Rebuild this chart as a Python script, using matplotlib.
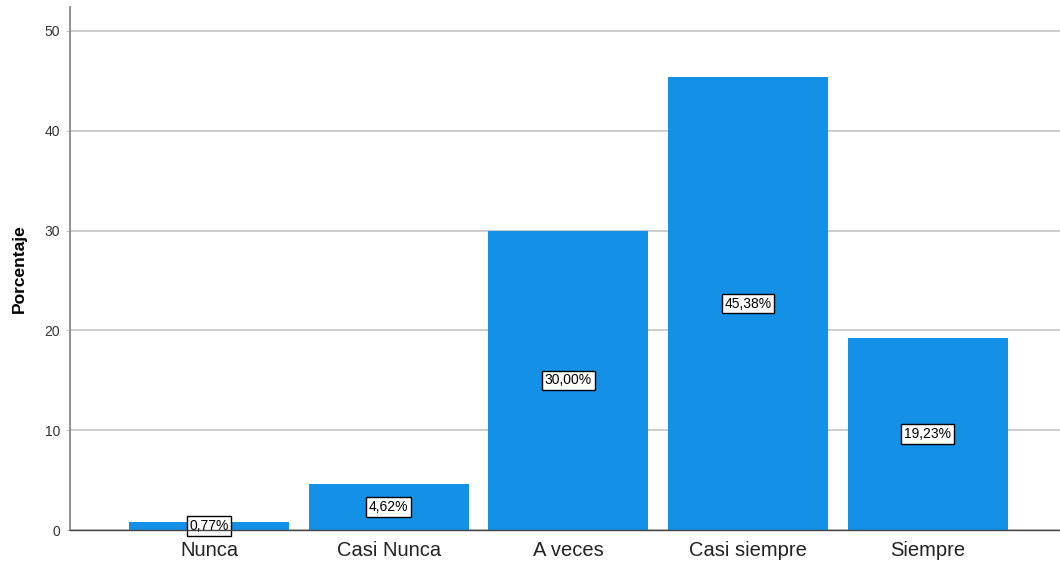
import matplotlib
matplotlib.use("Agg")
import matplotlib.pyplot as plt

categories = ["Nunca", "Casi Nunca", "A veces", "Casi siempre", "Siempre"]
values = [0.77, 4.62, 30.00, 45.38, 19.23]
labels = ["0,77%", "4,62%", "30,00%", "45,38%", "19,23%"]
yticks = [0, 10, 20, 30, 40, 50]

plt.rcParams['font.family'] = ['Liberation Sans', 'DejaVu Sans']

fig = plt.figure(figsize=(10.6, 5.66), dpi=100)
ax = fig.add_axes([0.066, 0.0636, 0.934, 0.924])

x = list(range(len(categories)))
ax.bar(x, values, width=0.89, color="#1490E6", zorder=3)

for xi, v, lab in zip(x, values, labels):
    ax.text(xi, v / 2, lab, ha="center", va="center", fontsize=10, zorder=4,
            bbox=dict(boxstyle="square,pad=0.2", facecolor="white", edgecolor="black", linewidth=1))

ax.set_xlim(-0.774, 4.736)
ax.set_ylim(0, 52.4)
ax.set_yticks(yticks)
ax.set_yticklabels([str(t) for t in yticks], fontsize=10, color="#333333")
ax.set_xticks(x)
ax.set_xticklabels(categories, fontsize=14.5, color="#222222")
ax.tick_params(axis="x", length=0, pad=8)
ax.tick_params(axis="y", length=3, color="#cccccc", pad=4)

ax.yaxis.grid(True, color="#C8C8C8", linewidth=1.3, zorder=0)
ax.set_axisbelow(True)

for s in ["top", "right"]:
    ax.spines[s].set_visible(False)
ax.spines["left"].set_color("#888888")
ax.spines["left"].set_linewidth(1.3)
ax.spines["bottom"].set_color("#444444")
ax.spines["bottom"].set_linewidth(1.0)
ax.spines["bottom"].set_zorder(5)

ax.set_ylabel("Porcentaje", fontsize=12.5, fontweight="bold", labelpad=13)

fig.savefig("out.png", dpi=100)
